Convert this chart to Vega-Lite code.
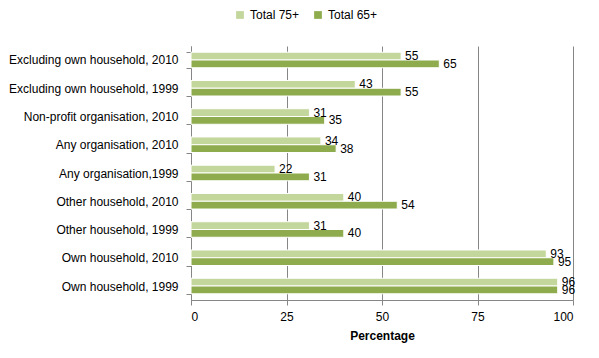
{
  "$schema": "https://vega.github.io/schema/vega-lite/v6.json",
  "width": 382,
  "height": 254,
  "autosize": {"type": "none"},
  "padding": {"left": 191, "top": 46, "right": 26, "bottom": 58},
  "background": "white",
  "config": {
    "font": "Liberation Sans",
    "view": {"stroke": null},
    "axis": {"labelFont": "Liberation Sans", "titleFont": "Liberation Sans", "labelColor": "#000", "titleColor": "#000"}
  },
  "data": {
    "values": [
      {"cat": "Excluding own household, 2010", "series": "Total 75+", "v": 55},
      {"cat": "Excluding own household, 2010", "series": "Total 65+", "v": 65},
      {"cat": "Excluding own household, 1999", "series": "Total 75+", "v": 43},
      {"cat": "Excluding own household, 1999", "series": "Total 65+", "v": 55},
      {"cat": "Non-profit organisation, 2010", "series": "Total 75+", "v": 31},
      {"cat": "Non-profit organisation, 2010", "series": "Total 65+", "v": 35},
      {"cat": "Any organisation, 2010", "series": "Total 75+", "v": 34},
      {"cat": "Any organisation, 2010", "series": "Total 65+", "v": 38},
      {"cat": "Any organisation,1999", "series": "Total 75+", "v": 22},
      {"cat": "Any organisation,1999", "series": "Total 65+", "v": 31},
      {"cat": "Other household, 2010", "series": "Total 75+", "v": 40},
      {"cat": "Other household, 2010", "series": "Total 65+", "v": 54},
      {"cat": "Other household, 1999", "series": "Total 75+", "v": 31},
      {"cat": "Other household, 1999", "series": "Total 65+", "v": 40},
      {"cat": "Own household, 2010", "series": "Total 75+", "v": 93},
      {"cat": "Own household, 2010", "series": "Total 65+", "v": 95},
      {"cat": "Own household, 1999", "series": "Total 75+", "v": 96},
      {"cat": "Own household, 1999", "series": "Total 65+", "v": 96}
    ]
  },
  "encoding": {
    "y": {
      "field": "cat", "type": "nominal", "sort": null,
      "scale": {"paddingInner": 0.45, "paddingOuter": 0.22},
      "axis": {"title": null, "labelFontSize": 12, "labelPadding": 8, "domainColor": "#868686", "tickColor": "#868686", "tickBand": "extent", "tickSize": 5}
    },
    "yOffset": {"field": "series", "type": "nominal", "sort": ["Total 75+", "Total 65+"]},
    "x": {
      "field": "v", "type": "quantitative",
      "scale": {"domain": [0, 100]},
      "axis": {"values": [0, 25, 50, 75, 100], "title": "Percentage", "titleFontSize": 12, "titleFontWeight": "bold", "titlePadding": 8, "labelFontSize": 12, "labelPadding": 6, "gridColor": "#868686", "domainColor": "#868686", "tickColor": "#868686", "tickSize": 5}
    }
  },
  "layer": [
    {
      "mark": {"type": "bar", "stroke": "white", "strokeWidth": 1},
      "encoding": {
        "color": {
          "field": "series", "type": "nominal",
          "scale": {"domain": ["Total 75+", "Total 65+"], "range": ["#c3d69b", "#8eac4e"]},
          "legend": {"title": null, "orient": "none", "direction": "horizontal", "legendX": 43, "legendY": -37, "symbolType": "square", "symbolSize": 60, "labelFontSize": 12, "columnPadding": 12, "symbolStrokeWidth": 0}
        }
      }
    },
    {
      "mark": {"type": "text", "align": "left", "dx": 4, "fontSize": 12, "color": "#000"},
      "encoding": {"text": {"field": "v", "type": "quantitative"}}
    }
  ]
}
